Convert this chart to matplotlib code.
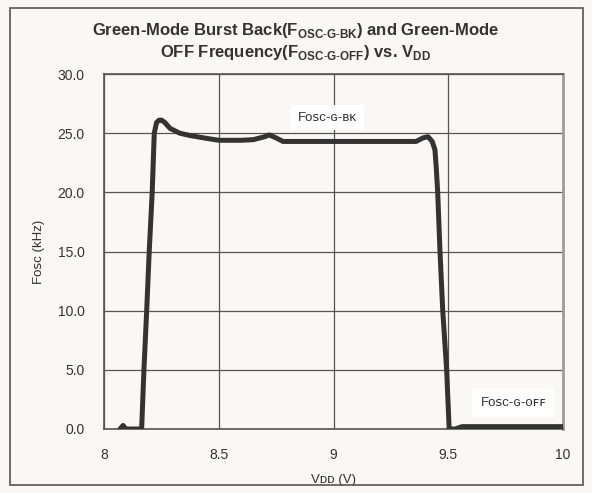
import matplotlib
matplotlib.use("Agg")
import matplotlib.pyplot as plt
from matplotlib.patches import Rectangle

plt.rcParams['font.family'] = ['Liberation Sans', 'DejaVu Sans']
plt.rcParams['mathtext.fontset'] = 'custom'
plt.rcParams['mathtext.rm'] = 'Liberation Sans'
plt.rcParams['mathtext.bf'] = 'Liberation Sans:bold'

# data
vdd = [8.07, 8.083, 8.095, 8.164, 8.174, 8.186, 8.197, 8.21, 8.219, 8.229,
       8.24, 8.251, 8.265, 8.288, 8.33, 8.375, 8.45, 8.50, 8.60, 8.65, 8.70,
       8.72, 8.75, 8.78, 8.85, 9.00, 9.20, 9.36, 9.39, 9.412, 9.43, 9.442,
       9.448, 9.454, 9.464, 9.476, 9.493, 9.504, 9.53, 9.56, 9.70, 10.0]
fosc = [0.0, 0.3, 0.0, 0.0, 5.0, 10.0, 15.0, 20.0, 25.0, 25.9,
        26.1, 26.1, 25.9, 25.4, 25.0, 24.8, 24.55, 24.4, 24.4, 24.45, 24.7,
        24.85, 24.6, 24.3, 24.3, 24.3, 24.3, 24.3, 24.6, 24.7, 24.3, 23.6,
        22.0, 20.0, 15.0, 10.0, 5.0, 0.0, 0.0, 0.2, 0.2, 0.2]
xticks = [8, 8.5, 9, 9.5, 10]
xticklabels = ["8", "8.5", "9", "9.5", "10"]
yticks = [0, 5, 10, 15, 20, 25, 30]

bg = '#f9f8f6'
fig = plt.figure(figsize=(5.92, 4.93), dpi=100, facecolor=bg)
fig.patches.append(Rectangle((10 / 592, 8 / 493), 573 / 592, 477 / 493,
                             transform=fig.transFigure, fill=False,
                             ec='#555555', lw=1.2))
ax = fig.add_axes([104 / 592, 1 - 429 / 493, 459 / 592, 355 / 493])
ax.set_facecolor(bg)

ax.plot(vdd, fosc, color='#333333', lw=3.6, solid_joinstyle='round',
        solid_capstyle='round', zorder=3)

ax.set_xlim(8, 10)
ax.set_ylim(0, 30)
ax.set_xticks(xticks)
ax.set_xticklabels(xticklabels)
ax.set_yticks(yticks)
ax.set_yticklabels(["%.1f" % v for v in yticks])
ax.tick_params(length=0, labelsize=10, labelcolor='#333333', pad=14)
ax.grid(True, color='#555555', lw=0.9)
for s in ax.spines.values():
    s.set_color('#555555')
    s.set_linewidth(1.2)
ax.spines['right'].set_color('#a09c98')
ax.spines['right'].set_linewidth(2)

ax.set_xlabel("Vᴅᴅ (V)", fontsize=9.5, color='#333333', labelpad=8)
ax.set_ylabel("Fᴏꜱᴄ (kHz)", fontsize=9.5, color='#333333', labelpad=9)

ax.text(8.845, 26.3, "Fᴏꜱᴄ-ɢ-ʙᴋ", fontsize=9.5, color='#333333', va='center',
        bbox=dict(boxstyle='square,pad=0.5', fc='white', ec='none'), zorder=4)
ax.text(9.64, 2.2, "Fᴏꜱᴄ-ɢ-ᴏꜰꜰ", fontsize=9.5, color='#333333', va='center',
        bbox=dict(boxstyle='square,pad=0.6', fc='white', ec='none'), zorder=4)

fig.text(0.5, 1 - 30 / 493,
         r"Green-Mode Burst Back(F$_{\mathbf{OSC\text{-}G\text{-}BK}}$) and Green-Mode",
         ha='center', va='center', fontsize=12, fontweight='bold', color='#333333')
fig.text(0.5, 1 - 53 / 493,
         r"OFF Frequency(F$_{\mathbf{OSC\text{-}G\text{-}OFF}}$) vs. V$_{\mathbf{DD}}$",
         ha='center', va='center', fontsize=12, fontweight='bold', color='#333333')

fig.savefig("out.png", dpi=100, facecolor=bg)
